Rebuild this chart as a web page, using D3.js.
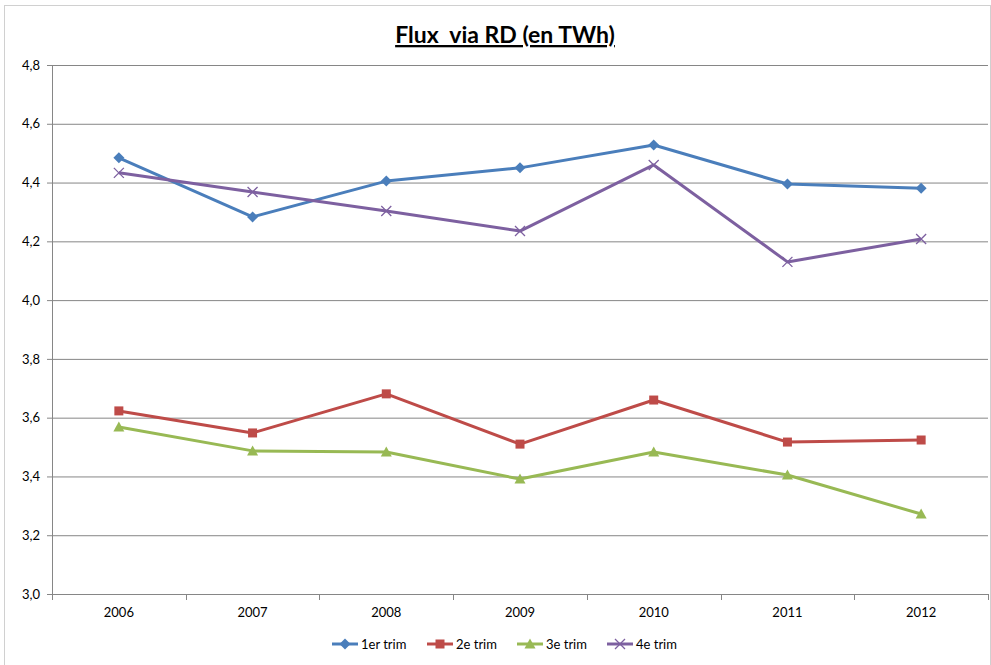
<!DOCTYPE html>
<html>
<head>
<meta charset="utf-8">
<script src="https://cdn.jsdelivr.net/npm/d3@7"></script>
<style>
  body { margin: 0; background: #fff; }
  text { font-family: Lato, "Open Sans", sans-serif; fill: #000; }
</style>
</head>
<body>
<svg id="chart" width="991" height="665"></svg>
<script>
// data
var years = ["2006", "2007", "2008", "2009", "2010", "2011", "2012"];
var trim1 = [4.484, 4.283, 4.405, 4.450, 4.528, 4.395, 4.381];
var trim2 = [3.623, 3.548, 3.681, 3.510, 3.660, 3.517, 3.524];
var trim3 = [3.568, 3.487, 3.483, 3.391, 3.483, 3.405, 3.272];
var trim4 = [4.433, 4.368, 4.303, 4.235, 4.460, 4.130, 4.208];
var seriesNames = ["1er trim", "2e trim", "3e trim", "4e trim"];
var yTicks = [3.0, 3.2, 3.4, 3.6, 3.8, 4.0, 4.2, 4.4, 4.6, 4.8];

var colors = ["#4A7EBB", "#BE4B48", "#98B954", "#7D60A0"];
var markers = ["diamond", "square", "triangle", "cross"];
var series = [trim1, trim2, trim3, trim4].map((vals, i) => ({
    name: seriesNames[i], color: colors[i], marker: markers[i],
    values: vals.map((v, j) => ({year: years[j], value: v}))
}));

var svg = d3.select("#chart");
var margin = {top: 65, left: 52, bottom: 71, right: 3};
var width = +svg.attr("width"), height = +svg.attr("height");

// outer chart frame
svg.append("rect")
    .attr("x", 4.5).attr("y", 5.5)
    .attr("width", 986).attr("height", 680)
    .attr("fill", "none").attr("stroke", "#d0d0d0").attr("stroke-width", 1);

var x = d3.scaleBand()
    .domain(years)
    .range([margin.left, width - margin.right]);

var y = d3.scaleLinear()
    .domain([3.0, 4.8])
    .range([height - margin.bottom, margin.top]);

var fmt = d => d3.format(".1f")(d).replace(".", ",");

// gridlines + y axis
var yAxis = svg.append("g")
    .attr("transform", `translate(${margin.left},0)`)
    .call(d3.axisLeft(y).tickValues(yTicks).tickFormat(fmt).tickSize(5).tickPadding(7));
yAxis.select(".domain").attr("stroke", "#868686");
yAxis.selectAll(".tick line").attr("stroke", "#868686");
yAxis.selectAll(".tick text").style("font-size", "13px");
yAxis.selectAll(".tick").append("line")
    .attr("x1", 0).attr("x2", width - margin.right - margin.left)
    .attr("stroke", "#868686").attr("stroke-width", 1);

// x axis with ticks between categories
var xAxis = svg.append("g")
    .attr("transform", `translate(0,${y(3.0)})`)
    .call(d3.axisBottom(x).tickSize(0).tickPadding(14));
xAxis.select(".domain").remove();
xAxis.selectAll(".tick text").style("font-size", "13px");
xAxis.selectAll("line.sep")
    .data(years.concat(["end"]))
    .enter().append("line")
    .attr("x1", (d, i) => Math.round(margin.left + i * x.bandwidth()) + 0.5)
    .attr("x2", (d, i) => Math.round(margin.left + i * x.bandwidth()) + 0.5)
    .attr("y1", 0).attr("y2", 6)
    .attr("stroke", "#868686");

// title
svg.append("text")
    .attr("x", 505).attr("y", 43)
    .attr("text-anchor", "middle")
    .style("font-size", "23px").style("font-weight", "bold")
    .style("text-decoration", "underline")
    .style("white-space", "pre")
    .text("Flux  via RD (en TWh)");

function drawMarker(g, type, color) {
    if (type == "diamond") {
        g.append("path").attr("d", "M0,-5.5L5.5,0L0,5.5L-5.5,0Z").attr("fill", color);
    } else if (type == "square") {
        g.append("rect").attr("x", -4.5).attr("y", -4.5).attr("width", 9).attr("height", 9).attr("fill", color);
    } else if (type == "triangle") {
        g.append("path").attr("d", "M0,-5.5L5.5,4.5L-5.5,4.5Z").attr("fill", color);
    } else {
        g.append("path").attr("d", "M-5,-5L5,5M-5,5L5,-5")
            .attr("stroke", color).attr("stroke-width", 1.3).attr("fill", "none");
    }
}

var line = d3.line()
    .x(d => x(d.year) + x.bandwidth() / 2)
    .y(d => y(d.value));

var groups = svg.selectAll("g.series")
    .data(series)
    .enter().append("g").classed("series", true);

groups.append("path")
    .attr("d", d => line(d.values))
    .attr("fill", "none")
    .attr("stroke", d => d.color)
    .attr("stroke-width", 3)
    .attr("stroke-linejoin", "round");

groups.each(function(s) {
    d3.select(this).selectAll("g.pt")
        .data(s.values)
        .enter().append("g").classed("pt", true)
        .attr("transform", d => `translate(${x(d.year) + x.bandwidth() / 2},${y(d.value)})`)
        .each(function() { drawMarker(d3.select(this), s.marker, s.color); });
});

// legend
var legendX = [332, 427, 517, 607];
var legend = svg.selectAll("g.legend")
    .data(series)
    .enter().append("g").classed("legend", true)
    .attr("transform", (d, i) => `translate(${legendX[i]},644)`);
legend.append("line")
    .attr("x1", 0).attr("x2", 26)
    .attr("stroke", d => d.color).attr("stroke-width", 3);
legend.each(function(s) {
    var m = d3.select(this).append("g").attr("transform", "translate(13,0)");
    drawMarker(m, s.marker, s.color);
});
legend.append("text")
    .attr("x", 29).attr("y", 5)
    .style("font-size", "13px")
    .text(d => d.name);
</script>
</body>
</html>
